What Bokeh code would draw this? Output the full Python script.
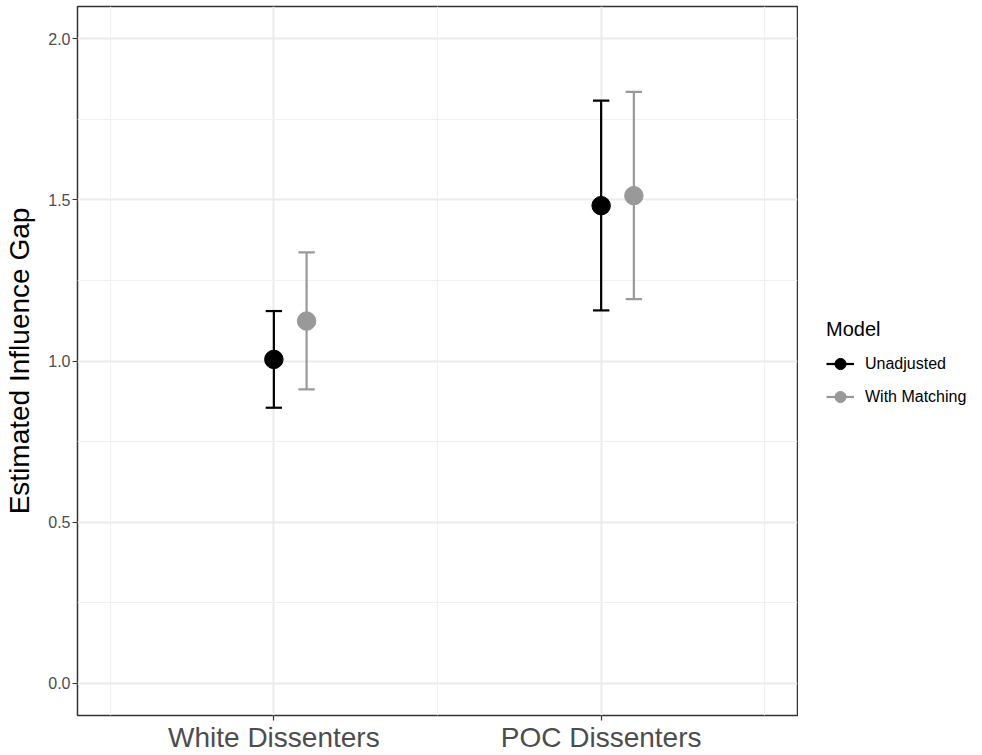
from bokeh.plotting import figure
from bokeh.layouts import row
from bokeh.models import Range1d, FixedTicker, Legend, LegendItem, ColumnDataSource
from bokeh.embed import file_html
from bokeh.resources import INLINE

# ---- data ----
categories = ["White Dissenters", "POC Dissenters"]
models = ["Unadjusted", "With Matching"]
unadj_est = [1.005, 1.482]
unadj_lo = [0.855, 1.157]
unadj_hi = [1.155, 1.808]
match_est = [1.124, 1.513]
match_lo = [0.912, 1.192]
match_hi = [1.337, 1.835]
y_ticks = [0.0, 0.5, 1.0, 1.5, 2.0]
y_minor = [0.25, 0.75, 1.25, 1.75]
y_tick_labels = ["0.0", "0.5", "1.0", "1.5", "2.0"]

# ---- styles ----
colors = ["#000000", "#999999"]
offsets = [0.0, 0.1]
cap_w = 0.05
FONT = "Liberation Sans"
H = 755

p = figure(width=798, height=H, output_backend="svg", toolbar_location=None,
           x_range=Range1d(0.4, 2.6), y_range=Range1d(-0.1, 2.1),
           min_border_top=6, min_border_left=77, min_border_right=1,
           min_border_bottom=0)

x_pos = [i + 1 for i in range(len(categories))]

series = [(unadj_est, unadj_lo, unadj_hi), (match_est, match_lo, match_hi)]
for k, (est, lo, hi) in enumerate(series):
    xs = [x + offsets[k] for x in x_pos]
    src = ColumnDataSource(dict(
        x=xs, y=est, lo=lo, hi=hi,
        xl=[x - cap_w / 2 for x in xs], xr=[x + cap_w / 2 for x in xs]))
    p.segment(x0="x", y0="lo", x1="x", y1="hi", source=src,
              line_color=colors[k], line_width=2.2)
    p.segment(x0="xl", y0="hi", x1="xr", y1="hi", source=src,
              line_color=colors[k], line_width=2.2)
    p.segment(x0="xl", y0="lo", x1="xr", y1="lo", source=src,
              line_color=colors[k], line_width=2.2)
    p.scatter(x="x", y="y", source=src, size=18.5, marker="circle",
              fill_color=colors[k], line_color=colors[k])

# axes
p.xaxis.ticker = FixedTicker(ticks=x_pos, minor_ticks=[0.5, 1.5, 2.5])
p.xaxis.major_label_overrides = {x: c for x, c in zip(x_pos, categories)}
p.yaxis.ticker = FixedTicker(ticks=y_ticks, minor_ticks=y_minor)
p.yaxis.major_label_overrides = {t: l for t, l in zip(y_ticks, y_tick_labels)}
p.yaxis.axis_label = "Estimated Influence Gap"

for ax in (p.xaxis, p.yaxis):
    ax.axis_line_color = None
    ax.major_tick_line_color = "#333333"
    ax.major_tick_line_width = 1.2
    ax.major_tick_out = 5
    ax.major_tick_in = 0
    ax.minor_tick_line_color = None
    ax.major_label_text_font = FONT
    ax.major_label_text_color = "#4d4d4d"
    ax.major_label_standoff = 2
    ax.axis_label_text_font = FONT
    ax.axis_label_text_font_style = "normal"
    ax.axis_label_text_color = "#000000"
    ax.axis_label_text_font_size = "28px"

p.xaxis.major_label_text_font_size = "28px"
p.xaxis.major_label_standoff = 1
p.yaxis.major_label_text_font_size = "16px"
p.yaxis.axis_label_standoff = 10

for g in (p.xgrid, p.ygrid):
    g.grid_line_color = "#ebebeb"
    g.grid_line_width = 2
    g.minor_grid_line_color = "#f0f0f0"
    g.minor_grid_line_width = 1.2

p.outline_line_color = "#333333"
p.outline_line_width = 1.5
p.background_fill_color = "white"
p.border_fill_color = "white"

# ---- legend panel (separate figure to the right of the plot) ----
lf = figure(width=178, height=H, output_backend="svg", toolbar_location=None,
            x_range=Range1d(0, 1), y_range=Range1d(0, 1),
            x_axis_location=None, y_axis_location=None,
            min_border=0)
lf.grid.visible = False
lf.outline_line_color = None
lf.background_fill_color = "white"
lf.border_fill_color = "white"

items = []
for k, m in enumerate(models):
    # off-range placeholder so that the legend has a glyph to draw
    dummy = ColumnDataSource(dict(x=[-10], y=[-10]))
    seg = lf.segment(x0="x", y0="y", x1="x", y1="y", source=dummy,
                     line_color=colors[k], line_width=2.2)
    pts = lf.scatter(x="x", y="y", source=dummy, marker="circle",
                     fill_color=colors[k], line_color=colors[k])
    items.append(LegendItem(label=m, renderers=[seg, pts]))

legend = Legend(items=items, title="Model", location=(28, 302),
                glyph_width=28, glyph_height=33, spacing=0, label_standoff=11,
                padding=3, margin=0, border_line_color=None,
                background_fill_alpha=0,
                label_text_font=FONT, label_text_font_size="16px",
                label_text_color="#000000",
                title_text_font=FONT, title_text_font_size="20px",
                title_text_font_style="normal", title_text_color="#000000",
                title_standoff=6)
lf.add_layout(legend)

layout = row(p, lf)
open("out.html", "w").write(file_html(layout, INLINE))
